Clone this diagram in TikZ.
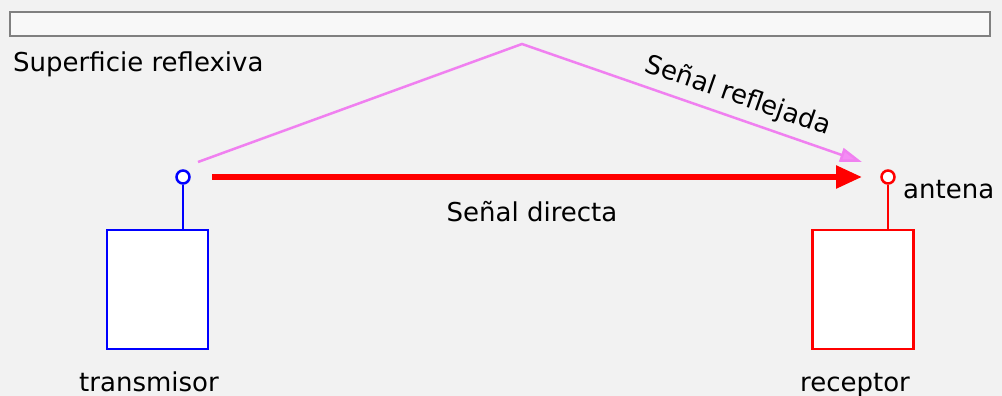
\documentclass[tikz,border=0pt]{standalone}
\usepackage{fontspec}
\setmainfont{DejaVu Sans}
\usetikzlibrary{arrows.meta}
\definecolor{bg}{RGB}{242,242,242}
\definecolor{barfill}{RGB}{248,248,248}
\definecolor{bargray}{RGB}{128,128,128}
\definecolor{refl}{RGB}{240,128,240}
\definecolor{reflfill}{RGB}{244,140,244}
\definecolor{tx}{RGB}{0,0,255}
\definecolor{rx}{RGB}{255,0,0}
\tikzset{
  lbl/.style={font=\fontsize{26}{30}\selectfont, text=black, inner sep=0pt},
  antcircle/.style={circle, draw=#1, fill=white, line width=2.5pt, minimum size=13pt, inner sep=0pt},
  unitbox/.style={draw=#1, fill=white, line width=2.5pt, minimum width=101pt, minimum height=119pt, inner sep=0pt},
}
\begin{document}
\begin{tikzpicture}[x=1pt,y=-1pt]
\fill[bg] (0,0) rectangle (1002,396);
\useasboundingbox (0,0) rectangle (1002,396);
% reflective surface
\node[draw=bargray, fill=barfill, line width=2.5pt, minimum width=980pt, minimum height=24pt, inner sep=0pt] (surf) at (500,24) {};
\node[lbl, anchor=base west] (surflbl) at (13,72) {Superficie reflexiva};
% transmitter
\node[antcircle=tx] (ta) at (183,177) {};
\node[unitbox=tx] (tbox) at (157.5,289.5) {};
\draw[tx, line width=2.5pt] (ta.south) -- (ta.south |- tbox.north);
\node[lbl, anchor=base] (tlbl) at (149,391) {transmisor};
% receiver
\node[antcircle=rx] (ra) at (888,177) {};
\node[unitbox=rx] (rbox) at (863,289.5) {};
\draw[rx, line width=2.5pt] (ra.south) -- (ra.south |- rbox.north);
\node[lbl, anchor=base] (rlbl) at (855,391) {receptor};
\node[lbl, anchor=base west] (antlbl) at (903,198) {antena};
% direct signal
\coordinate (ds) at (212,177);
\coordinate (de) at (862,177);
\draw[rx, line width=5.5pt, -{Triangle[length=26pt, width=22pt]}] (ds) -- (de);
\node[lbl, anchor=base] (dlbl) at (532,221) {Señal directa};
% reflected signal
\coordinate (rs) at (198,162);
\coordinate (rp) at (522,44);
\coordinate (re) at (862,162);
\draw[refl, line width=2.5pt, -{Triangle[length=22pt, width=14pt, fill=reflfill]}] (rs) -- (rp) -- (re);
\node[lbl, rotate=-19.2] (rlbl2) at (738,96) {Señal reflejada};
\end{tikzpicture}
\end{document}
